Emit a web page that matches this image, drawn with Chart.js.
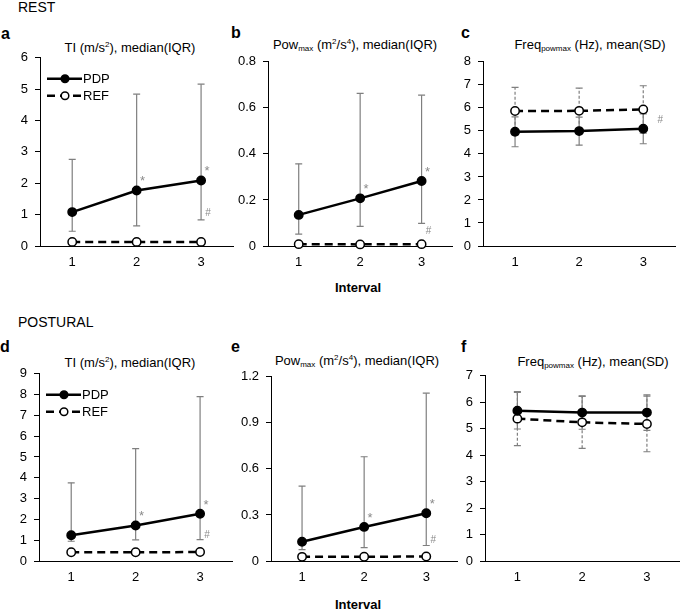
<!DOCTYPE html>
<html>
<head>
<meta charset="utf-8">
<script src="https://cdn.jsdelivr.net/npm/chart.js@4.4.1/dist/chart.umd.min.js"></script>
<style>
  body { margin: 0; width: 685px; height: 611px; overflow: hidden; background: #fff; position: relative;
         font-family: "Liberation Sans", Arial, sans-serif; color: #000; }
  canvas { position: absolute; }
  .txt { position: absolute; white-space: nowrap; line-height: 1; }
  .title { font-size: 13px; transform: translate(-50%, -50%); }
  .title sup, .title sub { font-size: 8px; position: relative; vertical-align: baseline; }
  .title sup { top: -5px; }
  .title sub { top: 2px; }
  .letter { font-size: 16px; font-weight: bold; transform: translateY(-50%); }
  .section { font-size: 14px; transform: translateY(-50%); }
  .xtitle { font-size: 13px; font-weight: bold; transform: translate(-50%, -50%); }
</style>
</head>
<body>
<div class="txt section" style="left:18px; top:7px;">REST</div>
<div class="txt section" style="left:18px; top:322px;">POSTURAL</div>

<div class="txt letter" style="left:1px; top:34px;">a</div>
<div class="txt letter" style="left:231px; top:33px;">b</div>
<div class="txt letter" style="left:461px; top:33px;">c</div>
<div class="txt letter" style="left:0px; top:347px;">d</div>
<div class="txt letter" style="left:231px; top:347px;">e</div>
<div class="txt letter" style="left:461px; top:347px;">f</div>

<div class="txt title" style="left:130px; top:47px;">TI (m/s<sup>2</sup>), median(IQR)</div>
<div class="txt title" style="left:355px; top:44px;">Pow<sub>max</sub> (m<sup>2</sup>/s<sup>4</sup>), median(IQR)</div>
<div class="txt title" style="left:590px; top:44px;">Freq<sub>powmax</sub> (Hz), mean(SD)</div>
<div class="txt title" style="left:130px; top:362px;">TI (m/s<sup>2</sup>), median(IQR)</div>
<div class="txt title" style="left:357px; top:360px;">Pow<sub>max</sub> (m<sup>2</sup>/s<sup>4</sup>), median(IQR)</div>
<div class="txt title" style="left:593px; top:361px;">Freq<sub>powmax</sub> (Hz), mean(SD)</div>

<div class="txt xtitle" style="left:358px; top:287px;">Interval</div>
<div class="txt xtitle" style="left:358px; top:604px;">Interval</div>

<canvas id="panelA" width="234" height="228" style="left:5px; top:43px;"></canvas>
<canvas id="panelB" width="225" height="224" style="left:233px; top:47px;"></canvas>
<canvas id="panelC" width="233" height="224" style="left:448px; top:47px;"></canvas>
<canvas id="panelD" width="234" height="227" style="left:4px; top:359px;"></canvas>
<canvas id="panelE" width="227" height="224" style="left:236px; top:362px;"></canvas>
<canvas id="panelF" width="235" height="225" style="left:450px; top:361px;"></canvas>

<script>
// Intervals
const categories = ['1', '2', '3'];

// REST - TI, median (IQR)
const restTiPdp = [1.08, 1.77, 2.09];
const restTiPdpQ1 = [0.47, 0.64, 0.83];
const restTiPdpQ3 = [2.76, 4.84, 5.16];
const restTiRef = [0.13, 0.13, 0.13];

// REST - Powmax, median (IQR)
const restPowPdp = [0.135, 0.207, 0.282];
const restPowPdpQ1 = [0.052, 0.085, 0.098];
const restPowPdpQ3 = [0.357, 0.663, 0.655];
const restPowRef = [0.008, 0.007, 0.008];

// REST - Freq powmax, mean (SD)
const restFreqPdp = [4.96, 4.99, 5.09];
const restFreqPdpSd = [0.65, 0.61, 0.65];
const restFreqRef = [5.86, 5.87, 5.93];
const restFreqRefSd = [1.03, 0.99, 1.03];

// POSTURAL - TI, median (IQR)
const postTiPdp = [1.24, 1.71, 2.27];
const postTiPdpQ1 = [0.95, 1.02, 1.03];
const postTiPdpQ3 = [3.76, 5.40, 7.90];
const postTiRef = [0.42, 0.42, 0.43];

// POSTURAL - Powmax, median (IQR)
const postPowPdp = [0.125, 0.222, 0.311];
const postPowPdpQ1 = [0.074, 0.087, 0.101];
const postPowPdpQ3 = [0.488, 0.679, 1.093];
const postPowRef = [0.027, 0.028, 0.029];

// POSTURAL - Freq powmax, mean (SD)
const postFreqPdp = [5.68, 5.61, 5.61];
const postFreqPdpSd = [0.69, 0.63, 0.67];
const postFreqRef = [5.38, 5.24, 5.18];
const postFreqRefSd = [1.02, 0.98, 1.05];

// significance marks (* vs interval 1, # vs REF) and where the # sits
const stars = ['', '*', '*'];
const noStars = ['', '', ''];
const restTiHash = [null, null, 1.05];
const restPowHash = [null, null, 0.065];
const restFreqHash = [null, null, 5.48];
const postTiHash = [null, null, 1.24];
const postPowHash = [null, null, 0.137];
const noHash = [null, null, null];

const FONT = '"Liberation Sans", Arial, sans-serif';
Chart.defaults.font.family = FONT;

const minus = (m, s) => m.map((v, i) => v - s[i]);
const plus = (m, s) => m.map((v, i) => v + s[i]);

// error bars drawn under the markers
const errorBars = {
    id: 'errorBars',
    beforeDatasetsDraw(chart, args, opts) {
        const ctx = chart.ctx;
        const y = chart.scales.y;
        (opts.sets || []).forEach(set => {
            const meta = chart.getDatasetMeta(set.dataset);
            ctx.save();
            ctx.strokeStyle = '#7f7f7f';
            ctx.lineWidth = 1.2;
            meta.data.forEach((pt, j) => {
                const x = pt.x;
                const lo = y.getPixelForValue(set.low[j]);
                const hi = y.getPixelForValue(set.high[j]);
                ctx.setLineDash(set.dash || []);
                ctx.beginPath();
                ctx.moveTo(x, lo);
                ctx.lineTo(x, hi);
                ctx.stroke();
                ctx.setLineDash([]);
                ctx.beginPath();
                ctx.moveTo(x - 3.5, lo); ctx.lineTo(x + 3.5, lo);
                ctx.moveTo(x - 3.5, hi); ctx.lineTo(x + 3.5, hi);
                ctx.stroke();
            });
            ctx.restore();
        });
    }
};

// asterisks, hashes and the legend
const marks = {
    id: 'marks',
    afterDatasetsDraw(chart, args, opts) {
        const ctx = chart.ctx;
        const y = chart.scales.y;
        const pdp = chart.getDatasetMeta(0).data;
        ctx.save();
        ctx.fillStyle = '#8a8a8a';
        ctx.textAlign = 'center';
        (opts.stars || []).forEach((s, j) => {
            if (!s) return;
            ctx.font = '13px ' + FONT;
            ctx.textBaseline = 'alphabetic';
            ctx.fillText(s, pdp[j].x + 6, pdp[j].y - 5);
        });
        (opts.hash || []).forEach((v, j) => {
            if (v == null) return;
            ctx.font = '10px ' + FONT;
            ctx.textBaseline = 'middle';
            ctx.fillText('#', pdp[j].x + (opts.hashDx || 7), y.getPixelForValue(v));
        });
        ctx.restore();

        if (!opts.legend) return;
        const area = chart.chartArea;
        const rows = [
            { ds: chart.data.datasets[0], dy: 21 },
            { ds: chart.data.datasets[1], dy: 38 }
        ];
        ctx.save();
        rows.forEach(r => {
            const yy = area.top + r.dy;
            const x0 = area.left + 7, x1 = area.left + 42, xc = area.left + 25;
            ctx.strokeStyle = '#000';
            ctx.lineWidth = 2.5;
            ctx.setLineDash(r.ds.borderDash || []);
            ctx.beginPath();
            ctx.moveTo(x0, yy);
            ctx.lineTo(x1, yy);
            ctx.stroke();
            ctx.setLineDash([]);
            ctx.lineWidth = 1.5;
            ctx.fillStyle = r.ds.pointBackgroundColor;
            ctx.beginPath();
            ctx.arc(xc, yy, 3.8, 0, Math.PI * 2);
            ctx.fill();
            ctx.stroke();
            ctx.fillStyle = '#000';
            ctx.font = '13px ' + FONT;
            ctx.textAlign = 'left';
            ctx.textBaseline = 'middle';
            ctx.fillText(r.ds.label, x1 + 1, yy + 1);
        });
        ctx.restore();
    }
};

function makePanel(id, cfg) {
    return new Chart(document.getElementById(id), {
        type: 'line',
        data: {
            labels: categories,
            datasets: [{
                label: 'PDP',
                data: cfg.pdp,
                borderColor: '#000',
                backgroundColor: '#000',
                borderWidth: 2.5,
                pointRadius: 4.2,
                pointBorderWidth: 1.5,
                pointBackgroundColor: '#000',
                pointBorderColor: '#000',
                clip: false
            }, {
                label: 'REF',
                data: cfg.ref,
                borderColor: '#000',
                backgroundColor: '#fff',
                borderWidth: 2.5,
                borderDash: [8, 5],
                pointRadius: 4.2,
                pointBorderWidth: 1.5,
                pointBackgroundColor: '#fff',
                pointBorderColor: '#000',
                clip: false
            }]
        },
        options: {
            responsive: false,
            animation: false,
            events: [],
            layout: { padding: { top: 10 } },
            plugins: {
                legend: { display: false },
                tooltip: { enabled: false },
                errorBars: { sets: cfg.bars },
                marks: { stars: cfg.stars, hash: cfg.hash, hashDx: cfg.hashDx, legend: cfg.legend }
            },
            scales: {
                x: {
                    offset: true,
                    grid: { display: false, drawTicks: false },
                    border: { color: '#000', width: 1 },
                    ticks: { color: '#000', font: { size: 13 }, padding: 9 },
                    afterFit: s => { s.height = 25; }
                },
                y: {
                    min: 0,
                    max: cfg.max,
                    ticks: { stepSize: cfg.step, color: '#000', font: { size: 13 }, padding: 7 },
                    grid: { drawOnChartArea: false, tickLength: 5, color: '#000' },
                    border: { color: '#000', width: 1 },
                    afterFit: s => { s.width = 35; }
                }
            }
        },
        plugins: [errorBars, marks]
    });
}

makePanel('panelA', {
    pdp: restTiPdp, ref: restTiRef, max: 6, step: 1, legend: true,
    bars: [{ dataset: 0, low: restTiPdpQ1, high: restTiPdpQ3 }],
    stars: stars, hash: restTiHash
});
makePanel('panelB', {
    pdp: restPowPdp, ref: restPowRef, max: 0.8, step: 0.2,
    bars: [{ dataset: 0, low: restPowPdpQ1, high: restPowPdpQ3 }],
    stars: stars, hash: restPowHash
});
makePanel('panelC', {
    pdp: restFreqPdp, ref: restFreqRef, max: 8, step: 1,
    bars: [
        { dataset: 0, low: minus(restFreqPdp, restFreqPdpSd), high: plus(restFreqPdp, restFreqPdpSd) },
        { dataset: 1, low: minus(restFreqRef, restFreqRefSd), high: plus(restFreqRef, restFreqRefSd), dash: [3, 2] }
    ],
    stars: noStars, hash: restFreqHash, hashDx: 17
});
makePanel('panelD', {
    pdp: postTiPdp, ref: postTiRef, max: 9, step: 1, legend: true,
    bars: [{ dataset: 0, low: postTiPdpQ1, high: postTiPdpQ3 }],
    stars: stars, hash: postTiHash
});
makePanel('panelE', {
    pdp: postPowPdp, ref: postPowRef, max: 1.2, step: 0.3,
    bars: [{ dataset: 0, low: postPowPdpQ1, high: postPowPdpQ3 }],
    stars: stars, hash: postPowHash
});
makePanel('panelF', {
    pdp: postFreqPdp, ref: postFreqRef, max: 7, step: 1,
    bars: [
        { dataset: 0, low: minus(postFreqPdp, postFreqPdpSd), high: plus(postFreqPdp, postFreqPdpSd) },
        { dataset: 1, low: minus(postFreqRef, postFreqRefSd), high: plus(postFreqRef, postFreqRefSd), dash: [3, 2] }
    ],
    stars: noStars, hash: noHash
});
</script>
</body>
</html>
